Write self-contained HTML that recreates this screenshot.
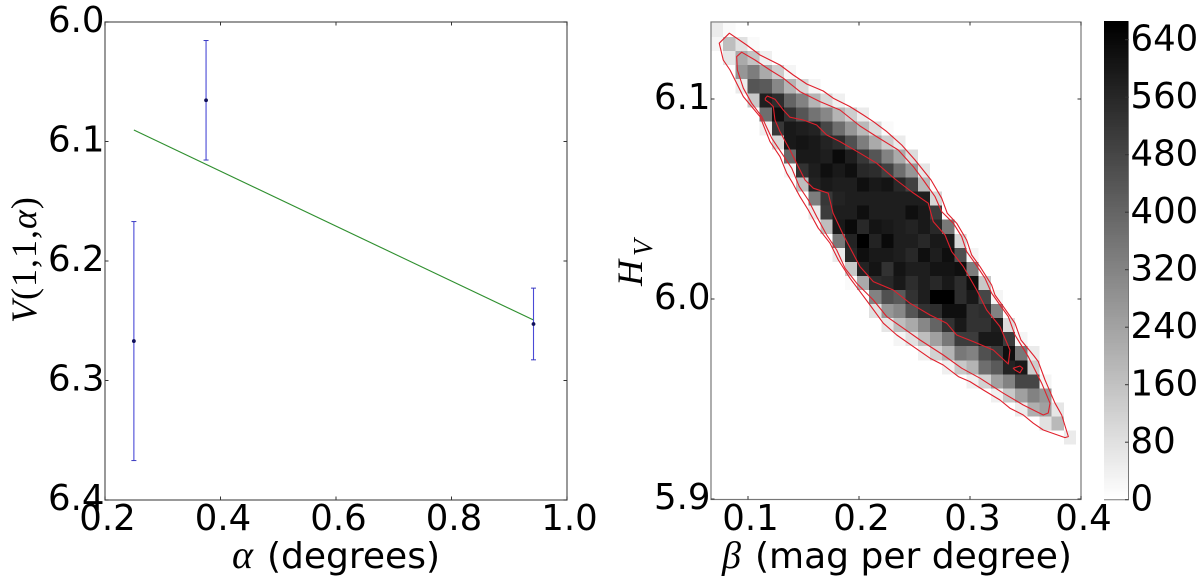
<!DOCTYPE html>
<html lang="en">
<head>
<meta charset="utf-8">
<title>Phase curve and H-beta histogram</title>
<style>
html,body{margin:0;padding:0;background:#fff;}
body{width:1200px;height:577px;overflow:hidden;}
svg{display:block;}
text{font-family:"DejaVu Sans",sans-serif;fill:#000;}
.mathtext{font-family:"Liberation Serif",serif;}
.mathtext-italic{font-family:"Liberation Serif",serif;font-style:italic;}
</style>
</head>
<body>
<svg id="figure" xmlns="http://www.w3.org/2000/svg" width="1200" height="577" viewBox="0 0 1200 577">
  <g id="phase-panel"></g>
  <g id="hist-panel"></g>
  <g id="cbar-panel"></g>
  <text class="mathtext-italic" x="232" y="568" font-size="40">α</text>
  <text x="267" y="568" font-size="36">(degrees)</text>
  <text class="mathtext" transform="translate(36,323) rotate(-90)" font-size="36" letter-spacing="1"><tspan class="mathtext-italic">V</tspan>(1,1,<tspan class="mathtext-italic">α</tspan>)</text>
  <text class="mathtext-italic" x="722" y="568" font-size="38">β</text>
  <text x="755" y="568" font-size="36">(mag per degree)</text>
  <text class="mathtext-italic" transform="translate(642,286) rotate(-90)" font-size="36">H</text>
  <text class="mathtext-italic" transform="translate(652,256) rotate(-90)" font-size="27">V</text>
</svg>
<script>
// ---- Phase curve data ----
const phaseAlpha = [0.25, 0.375, 0.942];
const phaseMag = [6.267, 6.0655, 6.2527];
const phaseErr = [0.1, 0.05, 0.03];
const fitAlpha = [0.25, 0.942];
const fitMag = [6.0904, 6.2494];
const phaseXTicks = [0.2, 0.4, 0.6, 0.8, 1.0];
const phaseYTicks = [6.0, 6.1, 6.2, 6.3, 6.4];

// ---- Histogram data: rows top (high H) to bottom, columns low to high beta ----
const histCounts = [
[52,13,0,0,0,0,0,0,0,0,0,0,0,0,0,0,0,0,0,0,0,0,0,0,0,0,0,0,0,0],
[26,168,78,13,0,0,0,0,0,0,0,0,0,0,0,0,0,0,0,0,0,0,0,0,0,0,0,0,0,0],
[0,65,220,155,39,0,0,0,0,0,0,0,0,0,0,0,0,0,0,0,0,0,0,0,0,0,0,0,0,0],
[0,0,272,337,220,130,26,0,0,0,0,0,0,0,0,0,0,0,0,0,0,0,0,0,0,0,0,0,0,0],
[0,0,52,440,427,311,194,104,26,0,0,0,0,0,0,0,0,0,0,0,0,0,0,0,0,0,0,0,0,0],
[0,0,0,142,583,544,401,324,194,104,39,0,0,0,0,0,0,0,0,0,0,0,0,0,0,0,0,0,0,0],
[0,0,0,0,376,622,531,440,363,311,194,130,52,0,0,0,0,0,0,0,0,0,0,0,0,0,0,0,0,0],
[0,0,0,0,39,518,596,583,570,479,376,272,181,91,13,0,0,0,0,0,0,0,0,0,0,0,0,0,0,0],
[0,0,0,0,0,104,596,609,596,570,544,453,337,220,130,52,0,0,0,0,0,0,0,0,0,0,0,0,0,0],
[0,0,0,0,0,0,389,596,596,583,635,583,518,440,324,220,91,0,0,0,0,0,0,0,0,0,0,0,0,0],
[0,0,0,0,0,0,26,531,583,622,596,622,557,544,492,376,272,65,0,0,0,0,0,0,0,0,0,0,0,0],
[0,0,0,0,0,0,0,168,570,596,583,583,622,596,609,557,492,181,0,0,0,0,0,0,0,0,0,0,0,0],
[0,0,0,0,0,0,0,0,337,518,570,583,583,583,583,583,583,583,104,0,0,0,0,0,0,0,0,0,0,0],
[0,0,0,0,0,0,0,0,52,505,583,583,622,583,583,583,622,596,505,0,0,0,0,0,0,0,0,0,0,0],
[0,0,0,0,0,0,0,0,0,168,596,635,557,609,596,583,570,596,557,350,0,0,0,0,0,0,0,0,0,0],
[0,0,0,0,0,0,0,0,0,0,350,570,660,570,635,583,583,557,596,596,104,0,0,0,0,0,0,0,0,0],
[0,0,0,0,0,0,0,0,0,0,52,557,622,596,596,583,557,622,583,622,453,26,0,0,0,0,0,0,0,0],
[0,0,0,0,0,0,0,0,0,0,0,142,570,609,531,609,583,583,609,609,622,337,0,0,0,0,0,0,0,0],
[0,0,0,0,0,0,0,0,0,0,0,13,220,544,557,596,544,583,557,596,544,622,142,0,0,0,0,0,0,0],
[0,0,0,0,0,0,0,0,0,0,0,0,0,324,453,427,531,583,660,660,544,596,479,26,0,0,0,0,0,0],
[0,0,0,0,0,0,0,0,0,0,0,0,0,78,272,311,440,531,544,622,622,531,544,324,0,0,0,0,0,0],
[0,0,0,0,0,0,0,0,0,0,0,0,0,0,65,168,220,311,401,531,596,531,531,583,91,0,0,0,0,0],
[0,0,0,0,0,0,0,0,0,0,0,0,0,0,0,26,78,168,246,350,505,505,596,596,505,26,0,0,0,0],
[0,0,0,0,0,0,0,0,0,0,0,0,0,0,0,0,0,39,120,194,350,324,453,505,622,350,52,0,0,0],
[0,0,0,0,0,0,0,0,0,0,0,0,0,0,0,0,0,0,0,39,142,194,376,427,570,596,130,0,0,0],
[0,0,0,0,0,0,0,0,0,0,0,0,0,0,0,0,0,0,0,0,0,39,117,246,324,479,479,26,0,0],
[0,0,0,0,0,0,0,0,0,0,0,0,0,0,0,0,0,0,0,0,0,0,0,39,142,246,324,272,0,0],
[0,0,0,0,0,0,0,0,0,0,0,0,0,0,0,0,0,0,0,0,0,0,0,0,0,52,207,246,65,0],
[0,0,0,0,0,0,0,0,0,0,0,0,0,0,0,0,0,0,0,0,0,0,0,0,0,0,0,78,181,0],
[0,0,0,0,0,0,0,0,0,0,0,0,0,0,0,0,0,0,0,0,0,0,0,0,0,0,0,0,0,52]
];
const histBetaRange = [0.0667, 0.3955];
const histHRange = [5.9272, 6.138];
const histXTicks = [0.1, 0.2, 0.3, 0.4];
const histYTicks = [5.9, 6.0, 6.1];

// ---- Contours as [beta, H] pairs ----
const contourOuter = [[.0832,6.1329],[.0988,6.1270],[.1108,6.1220],[.1198,6.1195],[.1288,6.1170],[.1408,6.1120],[.1529,6.1075],[.1678,6.1040],[.1768,6.1004],[.1919,6.0962],[.2039,6.0920],[.2129,6.0887],[.2250,6.0837],[.2385,6.0770],[.2505,6.0695],[.2649,6.0595],[.2745,6.0504],[.2795,6.0429],[.2880,6.0379],[.2970,6.0295],[.3015,6.0220],[.3090,6.0162],[.3195,6.0070],[.3225,6.0020],[.3300,5.9962],[.3405,5.9879],[.3459,5.9795],[.3577,5.9715],[.3615,5.9687],[.3676,5.9595],[.3766,5.9479],[.3826,5.9420],[.3886,5.9312],[.3856,5.9307],[.3660,5.9345],[.3570,5.9379],[.3480,5.9420],[.3360,5.9454],[.3270,5.9495],[.3120,5.9545],[.3000,5.9587],[.2895,5.9612],[.2759,5.9670],[.2640,5.9704],[.2489,5.9762],[.2340,5.9820],[.2219,5.9879],[.2099,5.9970],[.2009,6.0037],[.1919,6.0104],[.1814,6.0195],[.1739,6.0279],[.1633,6.0354],[.1543,6.0445],[.1468,6.0512],[.1403,6.0579],[.1349,6.0629],[.1288,6.0712],[.1198,6.0787],[.1108,6.0912],[.0958,6.1012],[.0838,6.1145],[.0777,6.1195],[.0741,6.1279]];
const contourMiddle = [[.0943,6.1234],[.1063,6.1195],[.1198,6.1145],[.1318,6.1104],[.1468,6.1037],[.1649,6.0987],[.1829,6.0945],[.2009,6.0865],[.2159,6.0812],[.2354,6.0745],[.2489,6.0662],[.2579,6.0595],[.2685,6.0512],[.2745,6.0437],[.2850,6.0379],[.2925,6.0312],[.2970,6.0237],[.3045,6.0179],[.3135,6.0104],[.3195,6.0029],[.3270,5.9970],[.3345,5.9912],[.3405,5.9820],[.3525,5.9712],[.3646,5.9579],[.3721,5.9479],[.3705,5.9430],[.3660,5.9420],[.3480,5.9470],[.3300,5.9529],[.3090,5.9604],[.2925,5.9654],[.2759,5.9720],[.2550,5.9795],[.2399,5.9854],[.2250,5.9912],[.2129,5.9995],[.1979,6.0079],[.1874,6.0154],[.1799,6.0245],[.1709,6.0320],[.1619,6.0412],[.1543,6.0495],[.1462,6.0562],[.1394,6.0654],[.1304,6.0729],[.1214,6.0804],[.1123,6.0912],[.1033,6.0979],[.0958,6.1054],[.0904,6.1145],[.0898,6.1212]];
const contourInner = [[.1156,6.1004],[.1174,6.1015],[.1243,6.0999],[.1318,6.0945],[.1378,6.0909],[.1498,6.0895],[.1619,6.0870],[.1709,6.0820],[.1829,6.0787],[.2009,6.0729],[.2159,6.0679],[.2324,6.0600],[.2477,6.0535],[.2624,6.0479],[.2669,6.0387],[.2775,6.0320],[.2835,6.0237],[.2940,6.0162],[.3060,6.0045],[.3150,5.9945],[.3270,5.9862],[.3360,5.9745],[.3345,5.9675],[.3210,5.9745],[.3030,5.9787],[.2880,5.9820],[.2790,5.9879],[.2640,5.9920],[.2459,5.9979],[.2309,6.0045],[.2129,6.0087],[.2009,6.0162],[.1859,6.0320],[.1766,6.0430],[.1723,6.0529],[.1588,6.0554],[.1514,6.0595],[.1453,6.0662],[.1378,6.0745],[.1288,6.0837],[.1243,6.0895],[.1228,6.0962],[.1198,6.0979],[.1156,6.0995]];
const contourIsland = [[.3390,5.9654],[.3450,5.9665],[.3475,5.9654],[.3450,5.9631],[.3405,5.9645]];

// ---- Colorbar data ----
const cbarTicks = [0, 80, 160, 240, 320, 400, 480, 560, 640];
const cbarMax = 664;

const NS = 'http://www.w3.org/2000/svg';
function mk(parent, tag, attrs) {
  const el = document.createElementNS(NS, tag);
  for (const k in attrs) el.setAttribute(k, attrs[k]);
  parent.appendChild(el);
  return el;
}
function linear(d0, d1, p0, p1) {
  return v => p0 + (v - d0) * (p1 - p0) / (d1 - d0);
}
function grayFor(count) {
  const g = Math.round(255 * (1 - Math.min(count, 660) / 660));
  return 'rgb(' + g + ',' + g + ',' + g + ')';
}

// ---------- Left panel ----------
const phaseG = document.getElementById('phase-panel');
const px = linear(0.2, 1.0, 105, 567);
const py = linear(6.0, 6.4, 22, 500);

const fitLine = mk(phaseG, 'polyline', {
  points: fitAlpha.map((a, i) => px(a) + ',' + py(fitMag[i])).join(' '),
  fill: 'none', stroke: '#2f8f2f', 'stroke-width': 1.1
});



phaseAlpha.forEach((a, i) => {
  const x = px(a);
  const top = py(phaseMag[i] - phaseErr[i]);
  const bot = py(phaseMag[i] + phaseErr[i]);
  const bar = mk(phaseG, 'line', {x1: x, x2: x, y1: top, y2: bot, stroke: '#4a4ad6', 'stroke-width': 1.1});
  
  
  const capTop = mk(phaseG, 'line', {x1: x - 2.5, x2: x + 2.5, y1: top, y2: top, stroke: '#3a3ac0', 'stroke-width': 1});
  
  
  const capBot = mk(phaseG, 'line', {x1: x - 2.5, x2: x + 2.5, y1: bot, y2: bot, stroke: '#3a3ac0', 'stroke-width': 1});
  
  
  const dot = mk(phaseG, 'circle', {cx: x, cy: py(phaseMag[i]), r: 1.9, fill: '#10105a'});
  
  
});

function drawFrame(group, name, left, top, right, bottom, xs, ys, xTicks, yTicks, stroke) {
  const frame = mk(group, 'rect', {x: left, y: top, width: right - left, height: bottom - top, fill: 'none', stroke: stroke, 'stroke-width': 1.2});
  
  
  xTicks.forEach(t => {
    const x = xs(t);
    const a = mk(group, 'line', {x1: x, x2: x, y1: bottom, y2: bottom - 3.5, stroke: '#333', 'stroke-width': 1});
    
    
    const b = mk(group, 'line', {x1: x, x2: x, y1: top, y2: top + 3.5, stroke: '#333', 'stroke-width': 1});
    
    
    const label = mk(group, 'text', {x: x + 2.5, y: 530, 'font-size': 35.5, 'text-anchor': 'middle'});
    label.textContent = t.toFixed(1);
    
    
  });
  yTicks.forEach(t => {
    const y = ys(t);
    const a = mk(group, 'line', {x1: left, x2: left + 3.5, y1: y, y2: y, stroke: '#333', 'stroke-width': 1});
    
    
    const b = mk(group, 'line', {x1: right, x2: right - 3.5, y1: y, y2: y, stroke: '#333', 'stroke-width': 1});
    
    
    const label = mk(group, 'text', {x: left - 0.5, y: y + 10, 'font-size': 35.5, 'text-anchor': 'end'});
    label.textContent = t.toFixed(1);
    
    
  });
}
drawFrame(phaseG, 'phase', 105, 22, 567, 500, px, py, phaseXTicks, phaseYTicks, '#555');

// ---------- Right panel ----------
const histG = document.getElementById('hist-panel');
const hx = linear(0.1, 0.4, 748, 1081);
const hy = linear(6.0, 5.9, 299, 499);
const rowCount = histCounts.length;
const colCount = histCounts[0].length;
const betaStep = (histBetaRange[1] - histBetaRange[0]) / colCount;
const hStep = (histHRange[1] - histHRange[0]) / rowCount;

histCounts.forEach((row, r) => {
  row.forEach((count, c) => {
    if (!count) return;
    const x0 = hx(histBetaRange[0] + c * betaStep);
    const x1 = hx(histBetaRange[0] + (c + 1) * betaStep);
    const y0 = hy(histHRange[1] - r * hStep);
    const y1 = hy(histHRange[1] - (r + 1) * hStep);
    const cell = mk(histG, 'rect', {x: x0, y: y0, width: x1 - x0, height: y1 - y0, fill: grayFor(count), 'shape-rendering': 'crispEdges'});
    
    
  });
});

function drawContour(points, name) {
  const path = mk(histG, 'polygon', {
    points: points.map(p => hx(p[0]) + ',' + hy(p[1])).join(' '),
    fill: 'none', stroke: '#e0202c', 'stroke-width': 1.1, 'stroke-linejoin': 'round'
  });
  
  
}
drawContour(contourOuter, 'contour-outer');
drawContour(contourMiddle, 'contour-middle');
drawContour(contourInner, 'contour-inner');
drawContour(contourIsland, 'contour-inner-island');

drawFrame(histG, 'hist', 711, 22, 1081, 499.5, hx, hy, histXTicks, histYTicks, '#777');

// ---------- Colorbar ----------
const cbarG = document.getElementById('cbar-panel');
const cy = linear(0, 640, 499.7, 39.7);
for (let v = 0; v < cbarMax; v += 3) {
  const band = mk(cbarG, 'rect', {x: 1104, y: cy(v + 3), width: 24.5, height: cy(v) - cy(v + 3) + 0.5, fill: grayFor(v), 'shape-rendering': 'crispEdges'});
  
  
}
const cbarEdge = mk(cbarG, 'polyline', {points: '1128.5,22 1128.5,499.7 1104,499.7', fill: 'none', stroke: '#777', 'stroke-width': 1});


cbarTicks.forEach(t => {
  const y = cy(t);
  const tick = mk(cbarG, 'line', {x1: 1125, x2: 1128.5, y1: y, y2: y, stroke: '#333', 'stroke-width': 1});
  
  
  const label = mk(cbarG, 'text', {x: 1130.5, y: y + 10.8, 'font-size': 35.5});
  label.textContent = String(t);
  
  
});
</script>
</body>
</html>
